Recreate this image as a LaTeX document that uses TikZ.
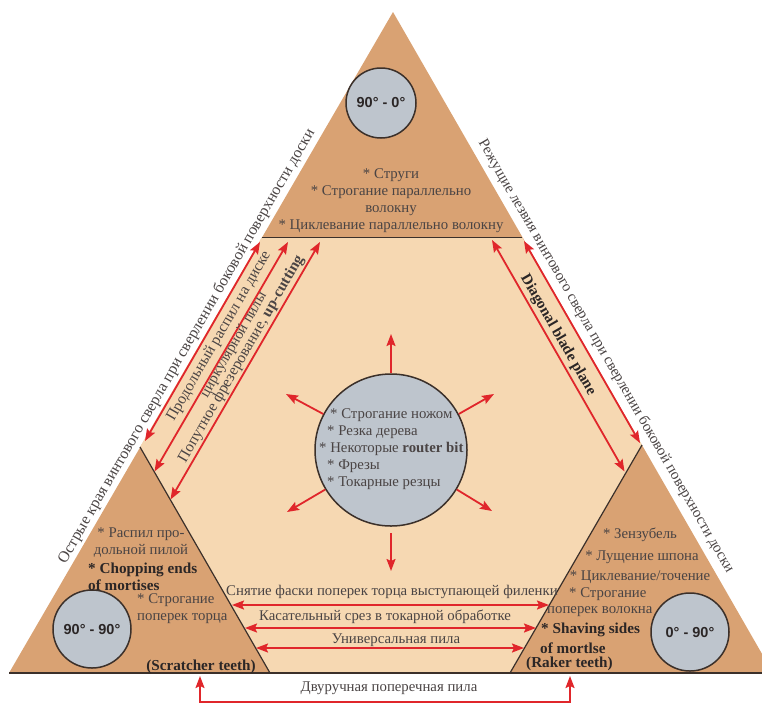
\documentclass[tikz,border=0pt]{standalone}
\usepackage{fontspec}
\setmainfont{Liberation Serif}
\newfontfamily\degfont{Liberation Sans}
\usetikzlibrary{arrows.meta}
\definecolor{darktan}{HTML}{D9A273}
\definecolor{lighttan}{HTML}{F6D8B2}
\definecolor{circfill}{HTML}{BEC5CD}
\definecolor{redarrow}{HTML}{E0262B}
\definecolor{edgeline}{HTML}{3B302A}
\definecolor{txtgray}{HTML}{4A4444}
\definecolor{txtdark}{HTML}{2B2626}
\tikzset{
  lbl/.style={font=\fontsize{14.8}{17}\selectfont, text=txtgray, inner sep=1pt},
  bld/.style={font=\fontsize{15.2}{17}\selectfont\bfseries, text=txtdark, inner sep=1pt},
  edgetxt/.style={font=\fontsize{15.8}{18}\selectfont, text=txtgray, inner sep=2pt},
  circ/.style={circle, draw=edgeline, line width=1.5pt, fill=circfill, inner sep=0pt,
    font=\degfont\bfseries\fontsize{14.5}{17}\selectfont, text=txtdark},
  rline/.style={draw=redarrow, line width=1.8pt},
  rarrow/.style={rline, -{Stealth[length=12pt,width=9pt,inset=2pt]}},
  dblarrow/.style={rline, {Stealth[length=12pt,width=9pt,inset=2pt]}-{Stealth[length=12pt,width=9pt,inset=2pt]}},
  divline/.style={draw=edgeline, line width=1.2pt}
}
\begin{document}
\begin{tikzpicture}[x=1pt,y=-1pt]
\useasboundingbox (0,0) rectangle (762,705);
\clip (0,0) rectangle (762,705);
% main vertices
\coordinate (apex) at (393,12);
\coordinate (bl) at (9,673);
\coordinate (br) at (773,673);
\coordinate (tl) at (262,237);
\coordinate (tr) at (522,237);
\coordinate (lT) at (140,447);
\coordinate (lR) at (270,673);
\coordinate (rT) at (642,445);
\coordinate (rL) at (510,673);
% regions
\fill[darktan] (apex) -- (bl) -- (br) -- cycle;
\fill[lighttan] (tl) -- (tr) -- (rT) -- (rL) -- (lR) -- (lT) -- cycle;
\draw[divline, line width=1pt] (tl) -- (tr);
\draw[divline] (lT) -- (lR);
\draw[divline] (rT) -- (rL);
\draw[draw=edgeline, line width=2pt] (bl) -- (br);
% circles
\node[circ, minimum size=70pt] (c1) at (381,103) {90° - 0°};
\node[circ, minimum size=78pt] (c2) at (92,629) {90° - 90°};
\node[circ, minimum size=78pt] (c3) at (690,632) {0° - 90°};
\node[circ, minimum size=152pt] (cc) at (391,450) {};
\node[lbl, align=left, anchor=west] (cctext) at (318,449)
  {\hspace*{11pt}* Строгание ножом\\\hspace*{8pt}* Резка дерева\\* Некоторые \textbf{router bit}\\\hspace*{8pt}* Фрезы\\\hspace*{8pt}* Токарные резцы};
% edge texts
\node[edgetxt, rotate=60, anchor=south] (lefttxt) at (195,351)
  {Острые края винтового сверла при сверлении боковой поверхности доски};
\node[edgetxt, rotate=-60, anchor=south, font=\fontsize{15}{18}\selectfont] (righttxt) at (598,361)
  {Режущие лезвия винтового сверла при сверлении боковой поверхности доски};
% top triangle text
\node[lbl, align=center] (toptxt) at (391,201)
  {* Струги\\* Строгание параллельно\\волокну\\* Циклевание параллельно волокну};
% bottom-left texts
\node[lbl, align=center] (blA) at (141,543) {\fontsize{14.8}{16}\selectfont * Распил про-\\дольной пилой};
\node[bld, align=left, anchor=west] (blB) at (87,577) {* Chopping ends\\of mortises};
\node[lbl, align=left, anchor=west] (blC) at (136,609) {* Строгание\\поперек торца};
\node[bld] (blD) at (201,667) {(Scratcher teeth)};
% bottom-right texts
\node[lbl] (br1) at (640,535) {* Зензубель};
\node[lbl] (br2) at (642,557) {* Лущение шпона};
\node[lbl] (br3) at (640,577) {* Циклевание/точение};
\node[lbl, anchor=west] (br4) at (568,594) {* Строгание};
\node[lbl, anchor=west] (br5) at (546,612) {поперек волокна};
\node[bld, anchor=west] (br6) at (540,630) {* Shaving sides};
\node[bld, anchor=west] (br7) at (539,648) {of mortlse};
\node[bld, anchor=west] (br8) at (525,664) {(Raker teeth)};
% left arrows
\coordinate (a1s) at (260,242); \coordinate (a1e) at (145,441);
\coordinate (a2s) at (288,242); \coordinate (a2e) at (154.5,471.5);
\coordinate (a3s) at (320,242); \coordinate (a3e) at (170.5,499.5);
\draw[dblarrow] (a1s) -- (a1e);
\draw[dblarrow] (a2s) -- (a2e);
\draw[dblarrow] (a3s) -- (a3e);
\node[lbl, rotate=60, align=center] (lab1) at (226.4,340.5)
  {\fontsize{15.5}{18.5}\selectfont Продольный распил на диске\\циркулярной пилы};
\node[lbl, rotate=60, font=\fontsize{15.5}{18}\selectfont] (lab2) at (241.5,359) {Попутное фрезерование, \textbf{up-cutting}};
% right arrows
\coordinate (aAs) at (492,240); \coordinate (aAe) at (624.5,471.5);
\coordinate (aBs) at (524,241); \coordinate (aBe) at (640,443);
\draw[dblarrow] (aAs) -- (aAe);
\draw[dblarrow] (aBs) -- (aBe);
\node[bld, rotate=-60] (labA) at (558,335) {Diagonal blade plane};
% central arrows
\coordinate (cu) at (391,334);
\coordinate (cul) at (286,394);
\coordinate (cur) at (494,394);
\coordinate (cdl) at (287,512);
\coordinate (cdr) at (492,511);
\coordinate (cd0) at (391,533);
\coordinate (cd) at (391,571);
\draw[rarrow] (cc.90) -- (cu);
\draw[rarrow] (cc.152) -- (cul);
\draw[rarrow] (cc.28) -- (cur);
\draw[rarrow] (cc.211) -- (cdl);
\draw[rarrow] (cc.329) -- (cdr);
\draw[rarrow] (cd0) -- (cd);
% bottom horizontal arrows
\coordinate (b1l) at (232,605); \coordinate (b1r) at (549,605);
\coordinate (b2l) at (245,628); \coordinate (b2r) at (536,628);
\coordinate (b3l) at (256,648); \coordinate (b3r) at (524,648);
\draw[dblarrow] (b1l) -- (b1r);
\draw[dblarrow] (b2l) -- (b2r);
\draw[dblarrow] (b3l) -- (b3r);
\node[lbl] (t1) at (392,592) {Снятие фаски поперек торца выступающей филенки};
\node[lbl] (t2) at (385,617) {Касательный срез в токарной обработке};
\node[lbl] (t3) at (396,640) {Универсальная пила};
% bracket below
\coordinate (u1t) at (200,676); \coordinate (u1) at (200,702);
\coordinate (u2) at (570,702); \coordinate (u2t) at (570,676);
\draw[dblarrow] (u1t) -- (u1) -- (u2) -- (u2t);
\node[lbl] (t4) at (389,688) {Двуручная поперечная пила};
\end{tikzpicture}
\end{document}
